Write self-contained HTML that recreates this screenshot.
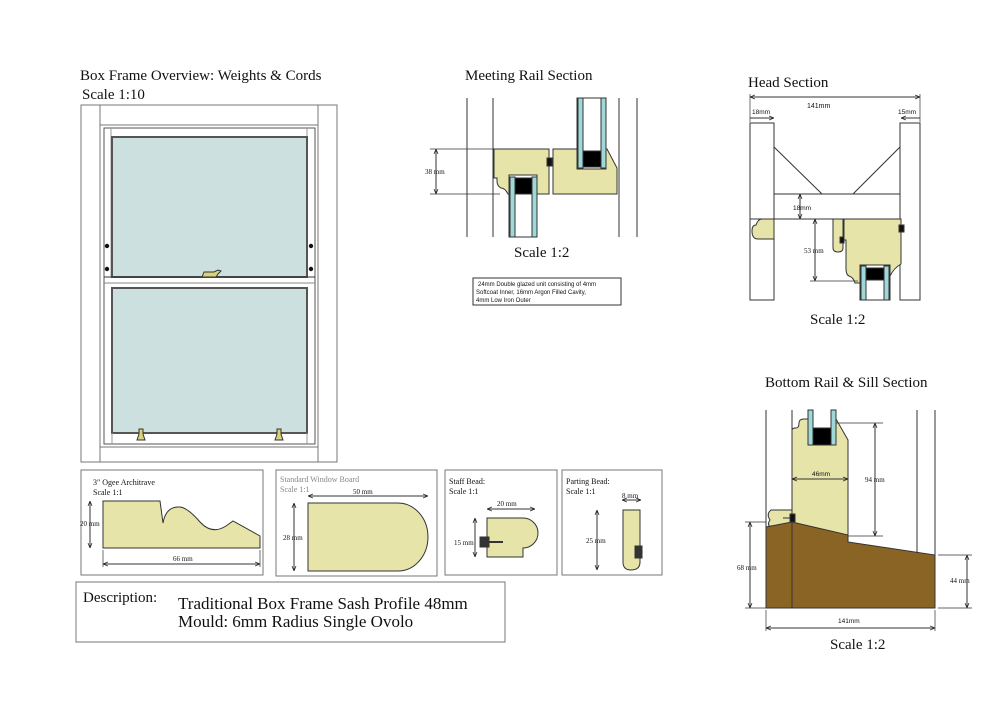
<!DOCTYPE html>
<html><head><meta charset="utf-8"><style>
html,body{margin:0;padding:0;background:#fff;width:995px;height:701px;overflow:hidden}
svg{display:block}
text{font-family:"Liberation Serif",serif;fill:#111}
.s{font-family:"Liberation Sans",sans-serif}
</style></head><body>
<svg width="995" height="701" viewBox="0 0 995 701" xmlns="http://www.w3.org/2000/svg">
<defs>
<marker id="a" viewBox="0 0 10 10" refX="10" refY="5" markerWidth="5" markerHeight="5" orient="auto-start-reverse"><path d="M0,1 L10,5 L0,9" fill="none" stroke="#222" stroke-width="1.5"/></marker>
</defs>
<g stroke="#333" fill="none" stroke-width="1">

<!-- Overview -->
<text x="80" y="80" font-size="15" stroke="none">Box Frame Overview: Weights &amp; Cords</text>
<text x="82" y="99" font-size="15" stroke="none">Scale 1:10</text>
<rect x="81" y="105" width="256" height="357" stroke="#777"/>
<line x1="100" y1="105" x2="100" y2="462" stroke="#777"/>
<line x1="318" y1="105" x2="318" y2="462" stroke="#777"/>
<line x1="100" y1="125" x2="318" y2="125" stroke="#777"/>
<line x1="100" y1="447" x2="318" y2="447" stroke="#777"/>
<rect x="104" y="128" width="211" height="316" stroke="#555"/>
<line x1="111" y1="128" x2="111" y2="277" stroke="#999"/><line x1="307" y1="128" x2="307" y2="277" stroke="#999"/>
<rect x="112" y="137" width="195" height="140" fill="#cde0e0" stroke="#555" stroke-width="2"/>
<line x1="104" y1="277" x2="315" y2="277"/><line x1="104" y1="283" x2="315" y2="283" stroke="#888"/>
<rect x="112" y="288" width="195" height="145" fill="#cde0e0" stroke="#555" stroke-width="2"/>
<line x1="112" y1="433" x2="112" y2="444" stroke="#999"/><line x1="307" y1="433" x2="307" y2="444" stroke="#999"/>
<g fill="#111" stroke="none"><circle cx="107" cy="246" r="2.2"/><circle cx="107" cy="269" r="2.2"/><circle cx="311" cy="246" r="2.2"/><circle cx="311" cy="269" r="2.2"/></g>
<path d="M202,277 l2,-5 h10 l4,-2 l3,1 l-3,3 l-2,3z" fill="#d8d27a" stroke="#333"/>
<path d="M137,440 l2,-6 v-5 h4 v5 l2,6z" fill="#d8d27a" stroke="#333"/>
<path d="M275,440 l2,-6 v-5 h4 v5 l2,6z" fill="#d8d27a" stroke="#333"/>

<!-- Meeting rail -->
<text x="465" y="80" font-size="15" stroke="none">Meeting Rail Section</text>
<line x1="467" y1="98" x2="467" y2="237"/><line x1="493" y1="98" x2="493" y2="237"/>
<line x1="619" y1="98" x2="619" y2="237"/><line x1="637" y1="98" x2="637" y2="237"/>
<path d="M494,149 H549 V194 H508 Q505,188 501,188 Q497,186 497,181 V178 H494Z" fill="#e6e4a8"/>
<path d="M553,149 H607 L617,168 V194 H553Z" fill="#e6e4a8"/>
<rect x="577" y="98" width="29" height="71" fill="#fff"/>
<rect x="578" y="98" width="5" height="70" fill="#9fd8d8"/><rect x="601" y="98" width="5" height="70" fill="#9fd8d8"/>
<rect x="583" y="151" width="18" height="16" fill="#000"/>
<rect x="509" y="175" width="28" height="62" fill="#fff"/>
<rect x="510" y="177" width="5" height="60" fill="#9fd8d8"/><rect x="532" y="177" width="5" height="60" fill="#9fd8d8"/>
<rect x="515" y="178" width="17" height="16" fill="#000"/>
<rect x="547" y="158" width="5" height="8" fill="#111"/>
<line x1="436" y1="149" x2="436" y2="194" marker-start="url(#a)" marker-end="url(#a)"/>
<line x1="430" y1="149" x2="494" y2="149" stroke-width=".7"/><line x1="430" y1="194" x2="500" y2="194" stroke-width=".7"/>
<text x="425" y="174" font-size="7" stroke="none">38 mm</text>
<text x="514" y="257" font-size="15" stroke="none">Scale 1:2</text>
<rect x="473" y="278" width="148" height="27"/>
<text class="s" x="478" y="286" font-size="6" stroke="none">24mm Double glazed unit consisting of 4mm</text>
<text class="s" x="476" y="294" font-size="6" stroke="none">Softcoat Inner, 16mm Argon Filled Cavity,</text>
<text class="s" x="476" y="302" font-size="6" stroke="none">4mm Low Iron Outer</text>

<!-- Head section -->
<text x="748" y="87" font-size="15" stroke="none">Head Section</text>
<line x1="750" y1="97" x2="920" y2="97" marker-start="url(#a)" marker-end="url(#a)"/>
<line x1="750" y1="94" x2="750" y2="122" stroke-width=".7"/><line x1="920" y1="94" x2="920" y2="122" stroke-width=".7"/>
<text class="s" x="807" y="108" font-size="7" stroke="none">141mm</text>
<line x1="750" y1="118" x2="774" y2="118" marker-end="url(#a)"/><text class="s" x="752" y="114" font-size="6.5" stroke="none">18mm</text>
<line x1="901" y1="118" x2="920" y2="118" marker-start="url(#a)"/><text class="s" x="898" y="114" font-size="6.5" stroke="none">15mm</text>
<rect x="750" y="123" width="24" height="177"/>
<rect x="900" y="123" width="20" height="177"/>
<line x1="774" y1="147" x2="822" y2="194"/><line x1="900" y1="147" x2="853" y2="194"/>
<line x1="774" y1="194" x2="900" y2="194"/><line x1="750" y1="219" x2="900" y2="219"/>
<line x1="800" y1="194" x2="800" y2="219" marker-start="url(#a)" marker-end="url(#a)"/>
<text class="s" x="793" y="210" font-size="6.5" stroke="none">18mm</text>
<path d="M774,219 V239 H758 Q752,239 752,231 Q752,225 756,225 Q758,219 762,219Z" fill="#e6e4a8"/>
<path d="M833,219 H843 V248 Q843,252 838,252 Q833,252 833,248Z" fill="#e6e4a8"/>
<path d="M844,219 H901 V264 Q894,268 890,276 V265 H860 V283 H855 Q853,277 849,276 Q846,275 846,268 V240 H844Z" fill="#e6e4a8"/>
<rect x="860" y="265" width="30" height="35" fill="#fff"/>
<rect x="861" y="266" width="5" height="34" fill="#9fd8d8"/><rect x="884" y="266" width="5" height="34" fill="#9fd8d8"/>
<rect x="866" y="268" width="18" height="12" fill="#000"/>
<rect x="840" y="237" width="4" height="6" fill="#111"/><rect x="899" y="225" width="5" height="7" fill="#111"/>
<line x1="815" y1="219" x2="815" y2="281" marker-start="url(#a)" marker-end="url(#a)"/>
<line x1="810" y1="281" x2="858" y2="281" stroke-width=".7"/>
<text x="804" y="253" font-size="7" stroke="none">53 mm</text>
<text x="810" y="324" font-size="15" stroke="none">Scale 1:2</text>

<!-- Bottom rail -->
<text x="765" y="387" font-size="15" stroke="none">Bottom Rail &amp; Sill Section</text>
<line x1="766" y1="410" x2="766" y2="527"/><line x1="792" y1="410" x2="792" y2="522"/>
<line x1="917" y1="410" x2="917" y2="552"/><line x1="935" y1="410" x2="935" y2="555"/>
<path d="M792,537 V430 Q792,428 796,428 Q799,428 799,423 Q799,419 804,419 H808 V445 H836 V419 L848,440 V537Z" fill="#e6e4a8"/>
<rect x="808" y="410" width="5" height="35" fill="#9fd8d8"/><rect x="831" y="410" width="5" height="35" fill="#9fd8d8"/>
<rect x="813" y="428" width="18" height="17" fill="#000"/>
<path d="M792,510 V527 H770 Q767,524 770,520 Q766,514 771,510Z" fill="#e6e4a8"/>
<rect x="790" y="514" width="5" height="8" fill="#111"/><line x1="783" y1="518" x2="790" y2="518"/>
<path d="M766,527 L792,522 L848,535 V542 L935,555 V608 H766Z" fill="#8a6424"/>
<line x1="792" y1="522" x2="792" y2="608"/>
<line x1="792" y1="479" x2="848" y2="479" marker-start="url(#a)" marker-end="url(#a)"/>
<text class="s" x="812" y="476" font-size="6.5" stroke="none">46mm</text>
<line x1="875" y1="423" x2="875" y2="536" marker-start="url(#a)" marker-end="url(#a)"/>
<line x1="836" y1="423" x2="883" y2="423" stroke-width=".7"/><line x1="848" y1="536" x2="883" y2="536" stroke-width=".7"/>
<text x="865" y="482" font-size="7" stroke="none">94 mm</text>
<line x1="750" y1="522" x2="750" y2="608" marker-start="url(#a)" marker-end="url(#a)"/>
<line x1="745" y1="522" x2="766" y2="522" stroke-width=".7"/><line x1="745" y1="608" x2="766" y2="608" stroke-width=".7"/>
<text x="737" y="570" font-size="7" stroke="none">68 mm</text>
<line x1="967" y1="555" x2="967" y2="608" marker-start="url(#a)" marker-end="url(#a)"/>
<line x1="938" y1="555" x2="972" y2="555" stroke-width=".7"/><line x1="938" y1="608" x2="972" y2="608" stroke-width=".7"/>
<text x="950" y="583" font-size="7" stroke="none">44 mm</text>
<line x1="766" y1="628" x2="935" y2="628" marker-start="url(#a)" marker-end="url(#a)"/>
<line x1="766" y1="610" x2="766" y2="631" stroke-width=".7"/><line x1="935" y1="610" x2="935" y2="631" stroke-width=".7"/>
<text class="s" x="838" y="623" font-size="6.5" stroke="none">141mm</text>
<text x="830" y="649" font-size="15" stroke="none">Scale 1:2</text>

<!-- Bottom boxes -->
<rect x="81" y="470" width="182" height="105" stroke="#777"/>
<text x="93" y="485" font-size="8" stroke="none">3" Ogee Architrave</text>
<text x="93" y="495" font-size="8" stroke="none">Scale 1:1</text>
<path d="M103,501 H160 L163,523 Q166,506 180,507 Q188,508 200,522 Q212,535 226,526 L233,521 L260,536 V548 H103Z" fill="#e6e4a8"/>
<line x1="90" y1="501" x2="90" y2="548" marker-start="url(#a)" marker-end="url(#a)"/>
<text x="80" y="526" font-size="7" stroke="none">20 mm</text>
<line x1="103" y1="564" x2="260" y2="564" marker-start="url(#a)" marker-end="url(#a)"/>
<line x1="103" y1="550" x2="103" y2="567" stroke-width=".7"/><line x1="260" y1="550" x2="260" y2="567" stroke-width=".7"/>
<text x="173" y="561" font-size="7" stroke="none">66 mm</text>

<rect x="276" y="470" width="161" height="106" stroke="#777"/>
<text x="280" y="482" font-size="8" stroke="none" style="fill:#888">Standard Window Board</text>
<text x="280" y="492" font-size="8" stroke="none" style="fill:#888">Scale 1:1</text>
<path d="M308,503 H398 A30,34 0 0 1 398,571 H308Z" fill="#e6e4a8"/>
<line x1="308" y1="496" x2="428" y2="496" marker-start="url(#a)" marker-end="url(#a)"/>
<text x="353" y="494" font-size="7" stroke="none">50 mm</text>
<line x1="294" y1="503" x2="294" y2="571" marker-start="url(#a)" marker-end="url(#a)"/>
<text x="283" y="540" font-size="7" stroke="none">28 mm</text>

<rect x="445" y="470" width="112" height="105" stroke="#777"/>
<text x="449" y="484" font-size="8" stroke="none">Staff Bead:</text>
<text x="449" y="494" font-size="8" stroke="none">Scale 1:1</text>
<path d="M487,518 H523 A12,12 0 0 1 523,548 V557 H487Z" fill="#e6e4a8"/>
<rect x="480" y="537" width="9" height="10" fill="#333"/><line x1="489" y1="542" x2="503" y2="542" stroke-width="2"/>
<line x1="487" y1="509" x2="535" y2="509" marker-start="url(#a)" marker-end="url(#a)"/>
<text x="497" y="506" font-size="7" stroke="none">20 mm</text>
<line x1="475" y1="518" x2="475" y2="557" marker-start="url(#a)" marker-end="url(#a)"/>
<text x="454" y="545" font-size="7" stroke="none">15 mm</text>

<rect x="562" y="470" width="100" height="105" stroke="#777"/>
<text x="566" y="484" font-size="8" stroke="none">Parting Bead:</text>
<text x="566" y="494" font-size="8" stroke="none">Scale 1:1</text>
<path d="M623,510 H640 V562 Q640,570 631,570 Q623,570 623,562Z" fill="#e6e4a8"/>
<rect x="635" y="546" width="7" height="12" fill="#333"/>
<line x1="622" y1="500" x2="641" y2="500" marker-start="url(#a)" marker-end="url(#a)"/>
<text x="622" y="498" font-size="7" stroke="none">8 mm</text>
<line x1="597" y1="510" x2="597" y2="570" marker-start="url(#a)" marker-end="url(#a)"/>
<text x="586" y="543" font-size="7" stroke="none">25 mm</text>

<rect x="76" y="582" width="429" height="60" stroke="#777"/>
<text x="83" y="602" font-size="15" stroke="none">Description:</text>
<text x="178" y="609" font-size="17" stroke="none">Traditional Box Frame Sash Profile 48mm</text>
<text x="178" y="627" font-size="17" stroke="none">Mould: 6mm Radius Single Ovolo</text>
</g>
</svg>
</body></html>
